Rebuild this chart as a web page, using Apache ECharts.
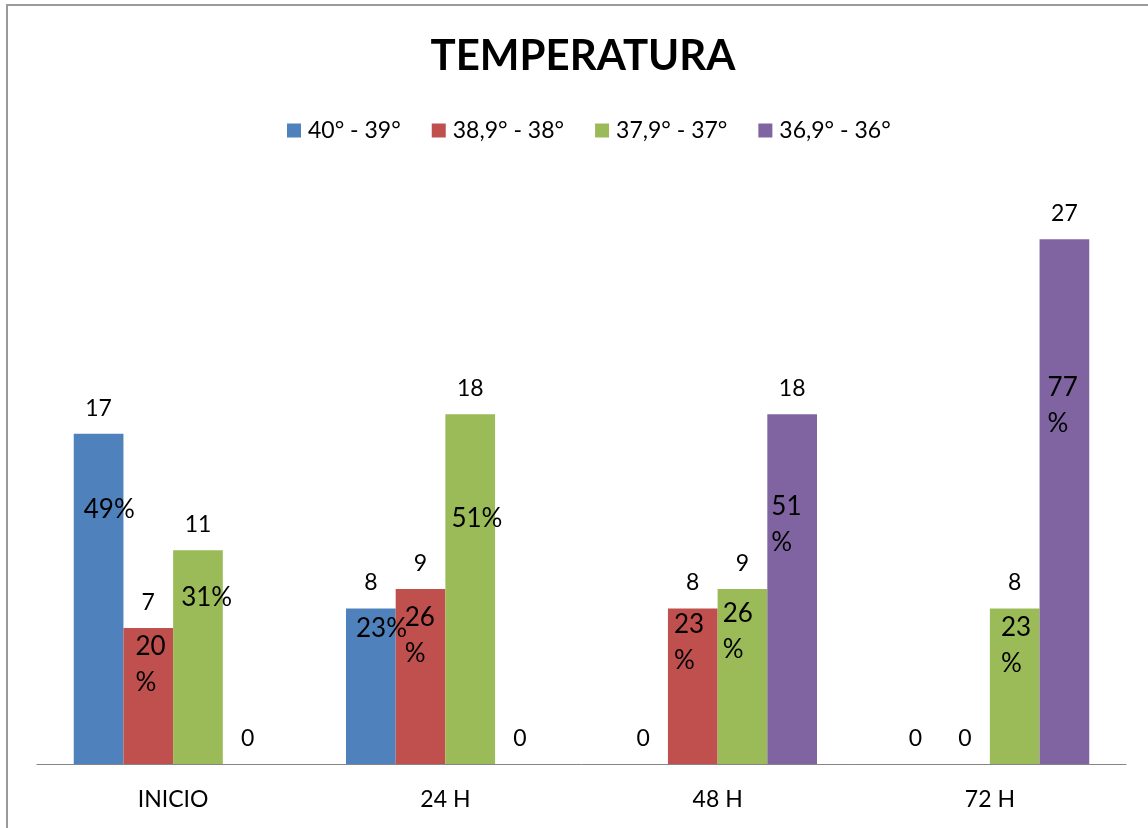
<!DOCTYPE html>
<html>
<head>
<meta charset="utf-8">
<script src="https://cdn.jsdelivr.net/npm/echarts@6/dist/echarts.min.js"></script>
<style>
html,body{margin:0;padding:0;background:#fff;}
#chart{width:1148px;height:828px;}
</style>
</head>
<body>
<div id="chart"></div>
<script>
var titleText = 'TEMPERATURA';
var categories = ['INICIO', '24 H', '48 H', '72 H'];
var seriesNames = ['40° - 39°', '38,9° - 38°', '37,9° - 37°', '36,9° - 36°'];
var vals4039 = [17, 8, 0, 0];
var vals3938 = [7, 9, 8, 0];
var vals3837 = [11, 18, 9, 8];
var vals3736 = [0, 0, 18, 27];
var pct4039 = ['49%', '23%', '', ''];
var pct3938 = ['20\n%', '26\n%', '23\n%', ''];
var pct3837 = ['31%', '51%', '26\n%', '23\n%'];
var pct3736 = ['', '', '51\n%', '77\n%'];

// styling (label placement inside each bar, px from bar's top-left)
var colors = ['#4F81BD', '#C0504D', '#9BBB59', '#8064A2'];
var pctPlacement = [
  [[10, 76], [10, 20], null, null],
  [[12, 37], [9, 47], [6, 34], null],
  [[8, 47], [6, 104], [5, 43], [11, 37]],
  [null, null, [4, 110], [8, 166]]
];
var FONT = 'Lato, "Open Sans", sans-serif';

var allVals = [vals4039, vals3938, vals3837, vals3736];
var allPct = [pct4039, pct3938, pct3837, pct3736];

var series = [];
allVals.forEach(function (v, i) {
  series.push({
    name: seriesNames[i],
    type: 'bar',
    xAxisIndex: 0, yAxisIndex: 0,
    barGap: '0%',
    barCategoryGap: '27%',
    itemStyle: { color: colors[i] },
    label: {
      show: true, position: 'top', distance: 14,
      color: '#000', fontFamily: FONT, fontSize: 23
    },
    data: v
  });
});
allVals.forEach(function (v, i) {
  series.push({
    name: seriesNames[i] + ' %',
    type: 'bar',
    xAxisIndex: 1, yAxisIndex: 1,
    barGap: '0%',
    barCategoryGap: '27%',
    silent: true,
    z: 5,
    itemStyle: { color: 'rgba(0,0,0,0)' },
    data: v.map(function (val, j) {
      var pos = pctPlacement[i][j];
      return {
        value: val,
        label: {
          show: !!allPct[i][j],
          formatter: allPct[i][j],
          position: pos || 'inside',
          align: 'left',
          verticalAlign: 'middle',
          color: '#000',
          fontFamily: FONT,
          fontSize: 26,
          lineHeight: 36
        }
      };
    })
  });
});

var chart = echarts.init(document.getElementById('chart'), null, { renderer: 'canvas' });
chart.setOption({
  animation: false,
  backgroundColor: '#fff',
  graphic: [{
    type: 'rect', z: -1,
    shape: { x: 7, y: 5, width: 1180, height: 860 },
    style: { fill: 'none', stroke: '#9a9a9a', lineWidth: 2 }
  }],
  title: {
    text: titleText,
    left: 578, top: 30,
    textAlign: 'center',
    textStyle: { fontFamily: FONT, fontSize: 42, fontWeight: 'bold', color: '#000' }
  },
  legend: {
    data: seriesNames,
    left: 282, top: 114,
    itemWidth: 14, itemHeight: 14, itemGap: 31,
    icon: 'rect',
    textStyle: { fontFamily: FONT, fontSize: 23, color: '#000', padding: [0, 0, 0, 2] }
  },
  grid: { left: 37, right: 22, top: 181, bottom: 64, containLabel: false },
  xAxis: [{
    type: 'category', data: categories,
    axisLine: { show: true, lineStyle: { color: '#868686', width: 1 } },
    axisTick: { show: false },
    axisLabel: { margin: 24, color: '#000', fontFamily: FONT, fontSize: 23 }
  }, {
    type: 'category', data: categories, show: false
  }],
  yAxis: [{
    type: 'value', min: 0, max: 30, show: false, splitLine: { show: false }
  }, {
    type: 'value', min: 0, max: 30, show: false, splitLine: { show: false }
  }],
  series: series
});
</script>
</body>
</html>
